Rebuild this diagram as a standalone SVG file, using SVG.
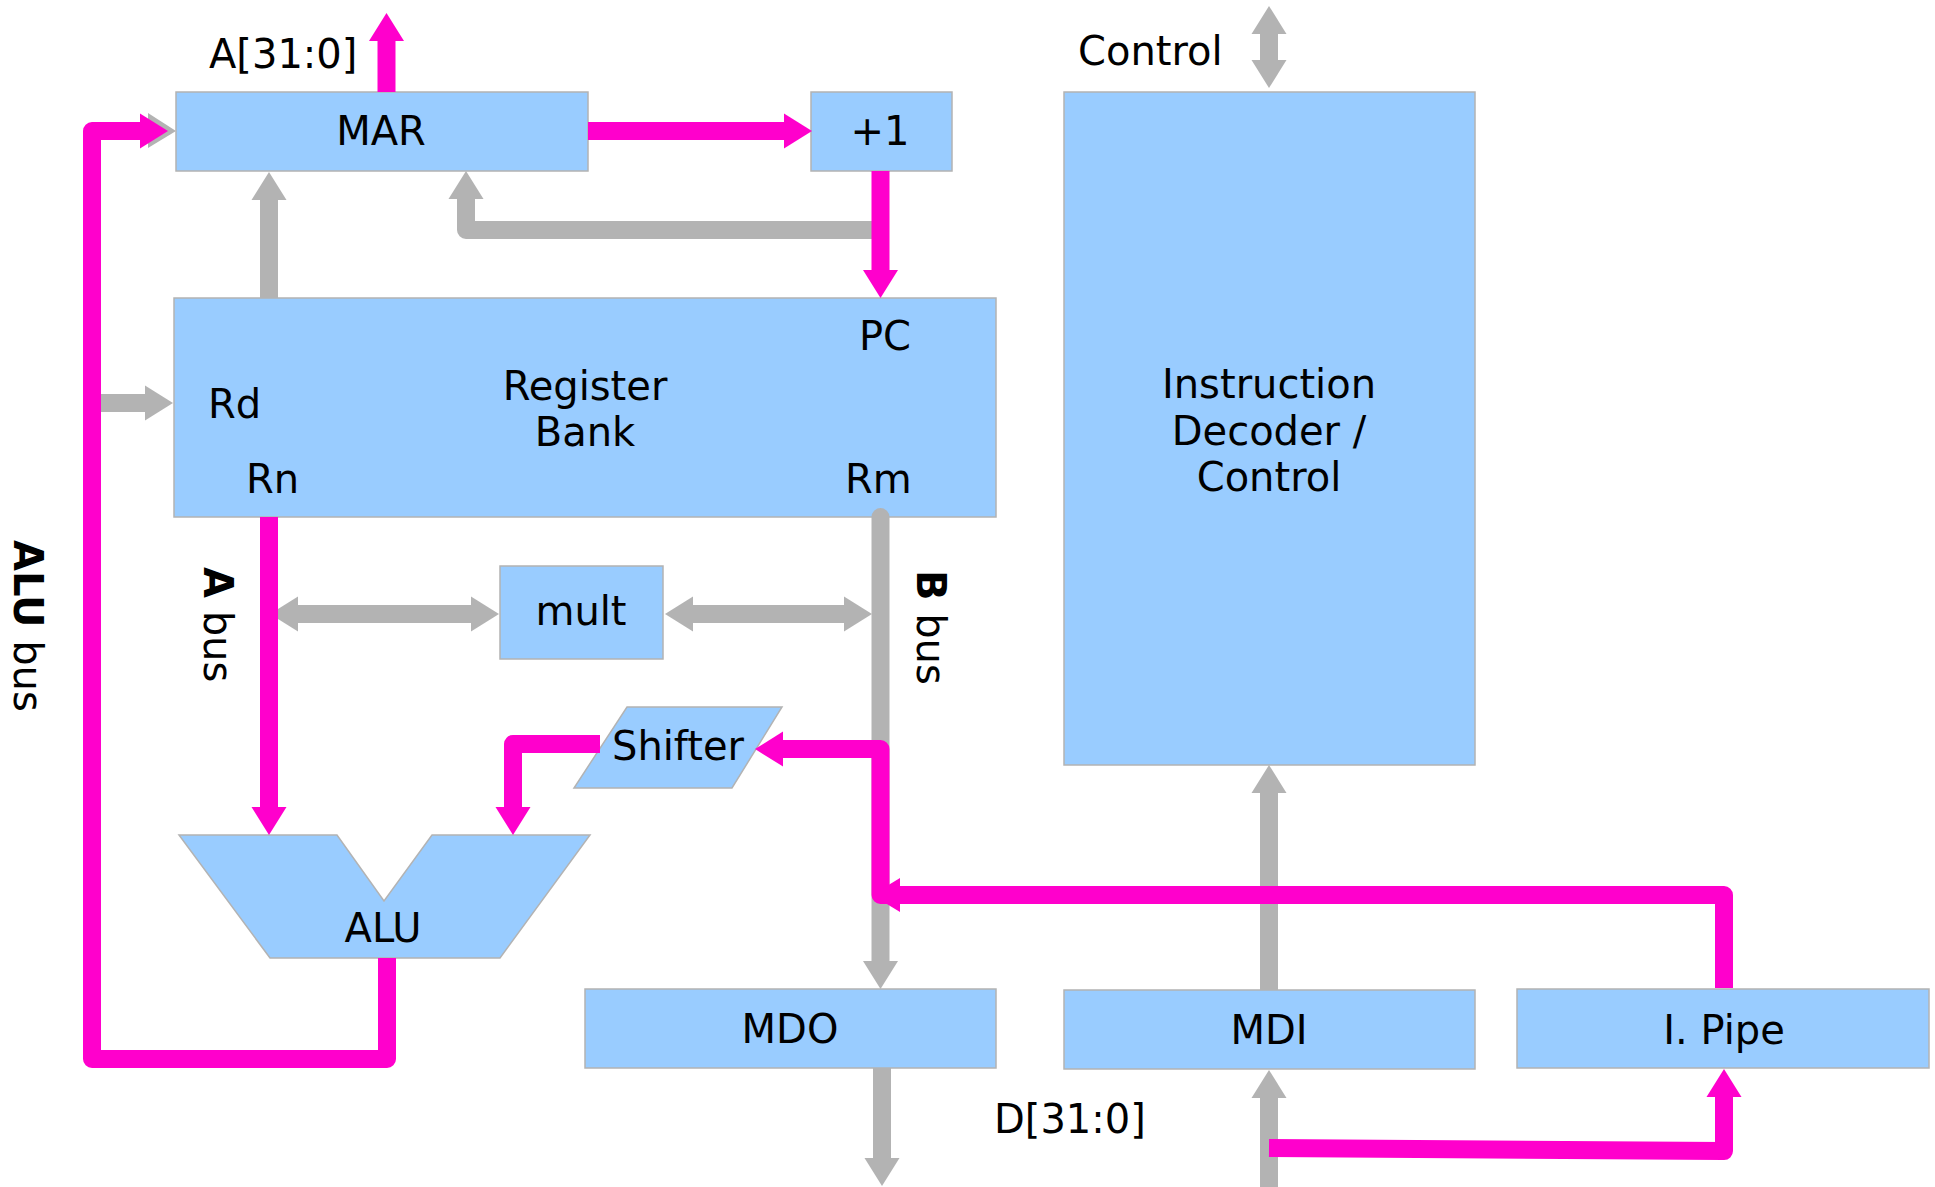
<svg xmlns="http://www.w3.org/2000/svg" width="1935" height="1187" viewBox="0 0 1935 1187">
<style>
.node{fill:#99ccff;stroke:#b3b3b3;stroke-width:1.5}
text{font-family:"DejaVu Sans","Liberation Sans",sans-serif;font-size:40px;fill:#000}
.c{text-anchor:middle}
.m{fill:none;stroke:#ff00cc;stroke-width:18;stroke-linejoin:round}
.g{fill:none;stroke:#b3b3b3;stroke-width:18;stroke-linejoin:round}
.mh{fill:#ff00cc}
.gh{fill:#b3b3b3}
</style>
<defs>
<marker id="am" markerUnits="userSpaceOnUse" viewBox="0 -18 28 36" refX="0" refY="0" markerWidth="28" markerHeight="36" orient="auto-start-reverse"><path d="M0,-17.5 L28,0 L0,17.5 z" fill="#ff00cc"/></marker>
<marker id="ag" markerUnits="userSpaceOnUse" viewBox="0 -18 28 36" refX="0" refY="0" markerWidth="28" markerHeight="36" orient="auto-start-reverse"><path d="M0,-17.5 L28,0 L0,17.5 z" fill="#b3b3b3"/></marker>
</defs>
<g id="labels">
<text x="209" y="68">A[31:0]</text>
<text x="1078" y="65">Control</text>
<text x="994" y="1133">D[31:0]</text>
<text transform="translate(14,540) rotate(90)"><tspan font-weight="bold">ALU</tspan> bus</text>
<text transform="translate(204,567) rotate(90)"><tspan font-weight="bold">A</tspan> bus</text>
<text transform="translate(917,570) rotate(90)"><tspan font-weight="bold">B</tspan> bus</text>
</g>
<g id="mar"><rect class="node" x="176" y="92" width="412" height="79"/><text class="c" x="381" y="145">MAR</text></g>
<g id="inc"><rect class="node" x="811" y="92" width="141" height="79"/><text class="c" x="880" y="145">+1</text></g>
<g id="regbank"><rect class="node" x="174" y="298" width="822" height="219"/>
<text class="c" x="585" y="400">Register</text><text class="c" x="585" y="446">Bank</text>
<text class="c" x="885" y="350">PC</text><text x="208" y="418">Rd</text><text x="246" y="493">Rn</text><text x="845" y="493">Rm</text></g>
<g id="decoder"><rect class="node" x="1064" y="92" width="411" height="673"/>
<text class="c" x="1269" y="398">Instruction</text><text class="c" x="1269" y="445">Decoder /</text><text class="c" x="1269" y="491">Control</text></g>
<g id="mult"><rect class="node" x="500" y="566" width="163" height="93"/><text class="c" x="581" y="625">mult</text></g>
<g id="shifter"><polygon class="node" points="627,707 782,707 732,788 574,788"/><text class="c" x="678" y="760">Shifter</text></g>
<g id="alu"><polygon class="node" points="179,835 337,835 384,901 432,835 590,835 500,958 270,958"/><text class="c" x="383" y="942">ALU</text></g>
<g id="mdo"><rect class="node" x="585" y="989" width="411" height="79"/><text class="c" x="790" y="1043">MDO</text></g>
<g id="mdi"><rect class="node" x="1064" y="990" width="411" height="79"/><text class="c" x="1269" y="1044">MDI</text></g>
<g id="ipipe"><rect class="node" x="1517" y="989" width="412" height="79"/><text class="c" x="1724" y="1044">I. Pipe</text></g>
<g id="connectors">
<path class="g" d="M269,298 V200" marker-end="url(#ag)"/>
<path class="g" d="M881,230 H466 V199" marker-end="url(#ag)"/>
<path class="g" d="M92,403 H145" marker-end="url(#ag)"/>
<polygon class="gh" points="148,113 176,131 148,148"/>
<path class="g" d="M298,614 H471" marker-start="url(#ag)" marker-end="url(#ag)"/>
<path class="g" d="M693,614 H844" marker-start="url(#ag)" marker-end="url(#ag)"/>
<path class="g" d="M880.5,517 V961" stroke-linecap="round" marker-end="url(#ag)"/>
<path class="g" d="M882,1068 V1158" marker-end="url(#ag)"/>
<path class="g" d="M1269,34 V60" marker-start="url(#ag)" marker-end="url(#ag)"/>
<path class="g" d="M1269,990 V793" marker-end="url(#ag)"/>
<path class="g" d="M1269,1187 V1098" marker-end="url(#ag)"/>
<path class="m" d="M386.5,92 V41" marker-end="url(#am)"/>
<path class="m" d="M588,131 H784" marker-end="url(#am)"/>
<path class="m" d="M880.5,171 V270" marker-end="url(#am)"/>
<path class="m" d="M387,958 V1059 H92 V131 H140" marker-end="url(#am)"/>
<path class="m" d="M269,517 V807" marker-end="url(#am)"/>
<path class="m" d="M600,744 H513 V807" marker-end="url(#am)"/>
<path class="m" d="M1724,988 V895 H880.5 V749 H783" marker-end="url(#am)"/>
<polygon class="mh" points="900,878 872,895 900,912"/>
<path class="m" d="M1269,1148 L1724,1151 V1097" marker-end="url(#am)"/>
</g>
</svg>
